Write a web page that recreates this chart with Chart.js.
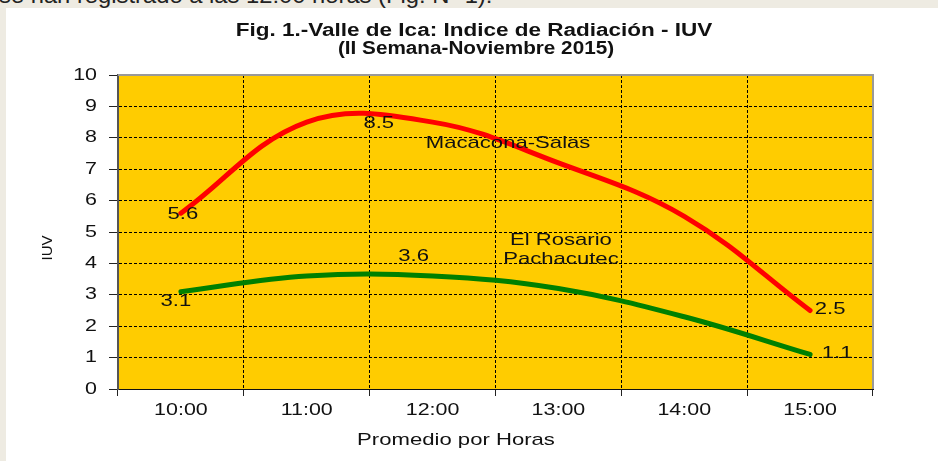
<!DOCTYPE html>
<html>
<head>
<meta charset="utf-8">
<script src="https://cdn.jsdelivr.net/npm/chart.js@4.4.0/dist/chart.umd.min.js"></script>
<style>
  html, body { margin: 0; padding: 0; }
  body { width: 938px; height: 461px; background: #eeebe2; position: relative; overflow: hidden; }
  #prev { position: absolute; left: -1px; top: -17px; font: 22px "Liberation Sans", Arial, sans-serif; color: #222; white-space: nowrap; transform-origin: 0 0; transform: scaleX(1.08); }
  #box { position: absolute; left: 6px; top: 8px; width: 932px; height: 453px; background: #fff; }
  canvas { display: block; }
</style>
</head>
<body>
<div id="prev">se han registrado a las 12:00 horas (Fig. Nº 1).</div>
<div id="box"><canvas id="iuvChart" width="932" height="453"></canvas></div>
<script>
// datos
const horas = ['10:00', '11:00', '12:00', '13:00', '14:00', '15:00'];
const macaconaSalas = [5.6, 8.5, 8.5, 7.2, 5.5, 2.5];
const rosarioPachacutec = [3.1, 3.6, 3.6, 3.2, 2.3, 1.1];
const yTicks = [0, 1, 2, 3, 4, 5, 6, 7, 8, 9, 10];
const titulo = ['Fig. 1.-Valle de Ica: Indice de Radiación - IUV', '(II Semana-Noviembre 2015)'];

// etiquetas de datos: indice del punto y desplazamiento del texto
const etiquetasRojo = [{ i: 0, dx: 2, dy: 1 }, { i: 1, dx: 72, dy: 1 }, { i: 5, dx: 20, dy: -1 }];
const etiquetasVerde = [{ i: 0, dx: -5, dy: 10 }, { i: 2, dx: -19, dy: -20 }, { i: 5, dx: 27, dy: -1 }];
// nombres de las series (en unidades del eje)
const nombres = [
  { text: 'Macacona-Salas', x: 2.6, y: 7.83 },
  { text: 'El Rosario', x: 3.02, y: 4.75 },
  { text: 'Pachacutec', x: 3.02, y: 4.14 }
];

const SX = 1.3; // el grafico original esta estirado en horizontal
const FONT = '"Liberation Sans", Arial, sans-serif';

function texto(ctx, str, x, y, size, align, bold, sx) {
  ctx.save();
  ctx.translate(x, y);
  ctx.scale(sx || SX, 1);
  ctx.font = (bold ? 'bold ' : '') + size + 'px ' + FONT;
  ctx.fillStyle = '#111';
  ctx.textAlign = align || 'center';
  ctx.textBaseline = 'middle';
  ctx.fillText(str, 0, 0);
  ctx.restore();
}

const fondoPlot = {
  id: 'fondoPlot',
  beforeDraw(chart) {
    const { ctx, chartArea: a } = chart;
    ctx.save();
    ctx.fillStyle = '#ffcc00';
    ctx.fillRect(a.left, a.top, a.right - a.left, a.bottom - a.top);
    ctx.restore();
  },
  beforeDatasetsDraw(chart) {
    const { ctx, chartArea: a } = chart;
    ctx.save();
    ctx.strokeStyle = '#999';
    ctx.lineWidth = 2;
    ctx.beginPath();
    ctx.moveTo(a.left, a.top);
    ctx.lineTo(a.right, a.top);
    ctx.lineTo(a.right, a.bottom);
    ctx.stroke();
    ctx.restore();
  }
};

const textos = {
  id: 'textos',
  afterDraw(chart) {
    const { ctx, scales: { x, y } } = chart;
    // titulo
    texto(ctx, titulo[0], 468, 23, 18, 'center', true, 1.25);
    texto(ctx, titulo[1], 470, 41, 18, 'center', true, 1.15);
    // ticks
    horas.forEach((h, i) => texto(ctx, h, x.getPixelForValue(i), 402, 16.5, 'center'));
    yTicks.forEach(v => texto(ctx, String(v), 91, y.getPixelForValue(v), 16.5, 'right'));
    // titulos de ejes
    texto(ctx, 'Promedio por Horas', 450, 432, 17, 'center');
    ctx.save();
    ctx.translate(42, 240);
    ctx.rotate(-Math.PI / 2);
    ctx.font = '15px ' + FONT;
    ctx.fillStyle = '#111';
    ctx.textAlign = 'center';
    ctx.textBaseline = 'middle';
    ctx.fillText('IUV', 0, 0);
    ctx.restore();
    // etiquetas de datos
    const pon = (serie, lista) => lista.forEach(e => {
      texto(ctx, serie[e.i].toFixed(1), x.getPixelForValue(e.i) + e.dx, y.getPixelForValue(serie[e.i]) + e.dy, 17, 'center');
    });
    pon(macaconaSalas, etiquetasRojo);
    pon(rosarioPachacutec, etiquetasVerde);
    nombres.forEach(n => texto(ctx, n.text, x.getPixelForValue(n.x), y.getPixelForValue(n.y), 17, 'center'));
  }
};

const ctx = document.getElementById('iuvChart').getContext('2d');
const chart = new Chart(ctx, {
  type: 'line',
  data: {
    labels: horas,
    datasets: [{
      label: 'Macacona-Salas',
      data: macaconaSalas,
      borderColor: '#ff0000',
      borderWidth: 5,
      pointRadius: 0,
      tension: 0.38,
      borderCapStyle: 'round'
    }, {
      label: 'El Rosario Pachacutec',
      data: rosarioPachacutec,
      borderColor: '#008000',
      borderWidth: 5,
      pointRadius: 0,
      tension: 0.38,
      borderCapStyle: 'round'
    }]
  },
  options: {
    responsive: false,
    animation: false,
    devicePixelRatio: 1,
    layout: { padding: { top: 67, right: 65, left: 0, bottom: 0 } },
    plugins: { legend: { display: false }, title: { display: false }, tooltip: { enabled: false } },
    scales: {
      x: {
        offset: true,
        grid: { offset: true, color: '#000', lineWidth: 1, tickLength: 7, tickColor: '#222', tickWidth: 1 },
        border: { color: '#111', width: 1, dash: [3, 2] },
        ticks: { display: false },
        afterFit(s) { s.height = 72; }
      },
      y: {
        min: 0,
        max: 10,
        grid: { color: '#000', lineWidth: 1, tickLength: 9, tickColor: '#222', tickWidth: 1 },
        border: { color: '#555', width: 2, dash: [3, 2] },
        ticks: { display: false, stepSize: 1 },
        afterFit(s) { s.width = 112; }
      }
    }
  },
  plugins: [fondoPlot, textos]
});
</script>
</body>
</html>
